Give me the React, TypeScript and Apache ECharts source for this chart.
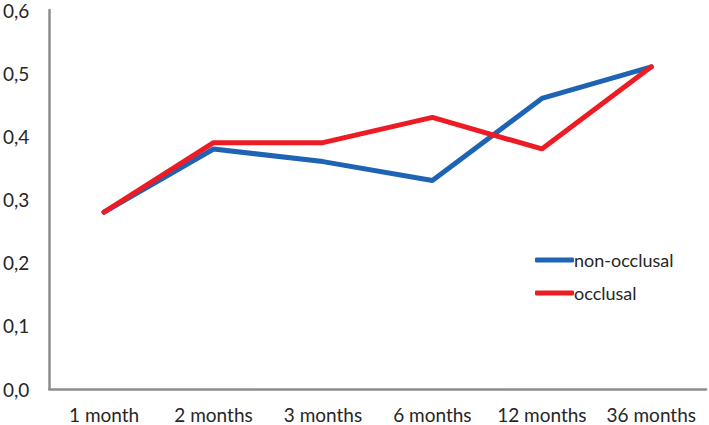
import React, { useEffect, useRef } from "react";
import * as echarts from "echarts";

const categories = ["1 month", "2 months", "3 months", "6 months", "12 months", "36 months"];
const nonOcclusal = [0.28, 0.38, 0.36, 0.33, 0.46, 0.51];
const occlusal = [0.28, 0.39, 0.39, 0.43, 0.38, 0.51];
const seriesNames = ["non-occlusal", "occlusal"];

export default function App() {
  const ref = useRef<HTMLDivElement>(null);
  useEffect(() => {
    if (!ref.current) return;
    const chart = echarts.init(ref.current, null, { renderer: "svg" });
    const font = "Lato";
    chart.setOption({
      animation: false,
      backgroundColor: "#ffffff",
      grid: { left: 48, right: 3, top: 10, bottom: 36, containLabel: false },
      legend: {
        orient: "vertical",
        left: 530,
        top: 246,
        icon: "roundRect",
        itemWidth: 39,
        itemHeight: 5,
        itemGap: 15,
        data: seriesNames,
        textStyle: {
          fontFamily: font,
          fontSize: 18,
          lineHeight: 18,
          color: "#262626",
          padding: [0, 0, 0, -5],
        },
      },
      xAxis: {
        type: "category",
        data: categories,
        boundaryGap: true,
        axisLine: { lineStyle: { color: "#8c8c8c", width: 2.5 } },
        axisTick: { show: false },
        axisLabel: {
          fontFamily: font,
          fontSize: 19,
          lineHeight: 19,
          color: "#262626",
          margin: 16,
          interval: 0,
          hideOverlap: false,
        },
      },
      yAxis: {
        type: "value",
        min: 0,
        max: 0.6,
        interval: 0.1,
        splitLine: { show: false },
        axisLine: { show: true, lineStyle: { color: "#8c8c8c", width: 2.5 } },
        axisTick: { show: false },
        axisLabel: {
          fontFamily: font,
          fontSize: 19,
          color: "#262626",
          margin: 20,
          formatter: (v: number) => v.toFixed(1).replace(".", ","),
        },
      },
      series: [
        {
          name: seriesNames[0],
          type: "line",
          data: nonOcclusal,
          symbol: "none",
          lineStyle: { color: "#1f63b5", width: 5, cap: "round" },
          itemStyle: { color: "#1f63b5" },
        },
        {
          name: seriesNames[1],
          type: "line",
          data: occlusal,
          symbol: "none",
          lineStyle: { color: "#ed1c24", width: 5, cap: "round" },
          itemStyle: { color: "#ed1c24" },
        },
      ],
    });
    return () => chart.dispose();
  }, []);
  return <div ref={ref} style={{ width: 709, height: 425, position: "absolute", left: 0, top: 0 }} />;
}
